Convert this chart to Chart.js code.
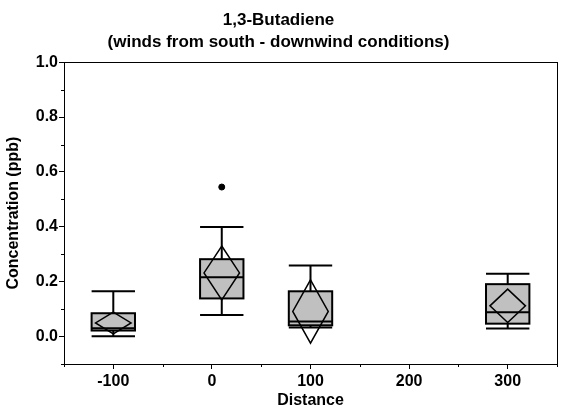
<!DOCTYPE html>
<html><head><meta charset="utf-8">
<script src="https://cdn.jsdelivr.net/npm/chart.js@4"></script>
<style>html,body{margin:0;padding:0;background:#fff}#wrap{width:567px;height:414px}</style>
</head><body><div id="wrap"><canvas id="c" width="567" height="414"></canvas></div>
<script>
// ---- data ----
const distances   = [-100, 10, 100, 300];
const whiskerLow  = [0.001, 0.079, 0.033, 0.029];
const q1          = [0.022, 0.139, 0.041, 0.047];
const medians     = [0.030, 0.216, 0.055, 0.089];
const q3          = [0.085, 0.282, 0.165, 0.191];
const whiskerHigh = [0.165, 0.399, 0.259, 0.229];
const meanCILow   = [0.010, 0.134, -0.024, 0.051];
const meanCIHigh  = [0.089, 0.330, 0.207, 0.173];
const outlierX    = [10];
const outlierY    = [0.545];
const xTicks      = [-100, 0, 100, 200, 300];
const xMinorTicks = [-150, -50, 50, 150, 250, 350];
const yTicks      = [0, 0.2, 0.4, 0.6, 0.8, 1.0];
const yMinorTicks = [-0.1, 0.1, 0.3, 0.5, 0.7, 0.9];

// ---- styles ----
const BOX_HALF = 22;      // half box width in x-units
const DIAMOND_HALF = 18;  // half diamond width in x-units
const FONT = 'Liberation Sans, Arial, sans-serif';

const boxPlugin = {
  id: 'boxes',
  beforeDatasetsDraw(chart) {
    const ctx = chart.ctx, xs = chart.scales.x, ys = chart.scales.y;
    ctx.save();
    ctx.strokeStyle = '#000';
    for (let i = 0; i < distances.length; i++) {
      const cx = xs.getPixelForValue(distances[i]);
      const l = xs.getPixelForValue(distances[i] - BOX_HALF);
      const r = xs.getPixelForValue(distances[i] + BOX_HALF);
      const yq1 = ys.getPixelForValue(q1[i]), yq3 = ys.getPixelForValue(q3[i]);
      const ylo = ys.getPixelForValue(whiskerLow[i]), yhi = ys.getPixelForValue(whiskerHigh[i]);
      const ymed = ys.getPixelForValue(medians[i]);
      ctx.lineWidth = 2;
      // whiskers
      ctx.beginPath();
      ctx.moveTo(cx, yq3); ctx.lineTo(cx, yhi);
      ctx.moveTo(cx, yq1); ctx.lineTo(cx, ylo);
      ctx.moveTo(l, yhi); ctx.lineTo(r, yhi);
      ctx.moveTo(l, ylo); ctx.lineTo(r, ylo);
      ctx.stroke();
      // box
      ctx.fillStyle = '#c0c0c0';
      ctx.fillRect(l, yq3, r - l, yq1 - yq3);
      ctx.strokeRect(l, yq3, r - l, yq1 - yq3);
      // median
      ctx.beginPath();
      ctx.moveTo(l, ymed); ctx.lineTo(r, ymed);
      ctx.stroke();
      // mean diamond
      const dl = xs.getPixelForValue(distances[i] - DIAMOND_HALF);
      const dr = xs.getPixelForValue(distances[i] + DIAMOND_HALF);
      const dt = ys.getPixelForValue(meanCIHigh[i]);
      const db = ys.getPixelForValue(meanCILow[i]);
      const dm = (dt + db) / 2;
      ctx.lineWidth = 1.5;
      ctx.beginPath();
      ctx.moveTo(cx, dt); ctx.lineTo(dr, dm); ctx.lineTo(cx, db); ctx.lineTo(dl, dm); ctx.closePath();
      ctx.stroke();
    }
    ctx.restore();
  },
  afterDraw(chart) {
    const ctx = chart.ctx, a = chart.chartArea, xs = chart.scales.x, ys = chart.scales.y;
    ctx.save();
    ctx.strokeStyle = '#000';
    ctx.lineWidth = 1;
    ctx.strokeRect(Math.round(a.left) + 0.5, Math.round(a.top) + 0.5, Math.round(a.right - a.left), Math.round(a.bottom - a.top));
    ctx.beginPath();
    xMinorTicks.forEach(v => {
      const x = Math.round(xs.getPixelForValue(v)) + 0.5;
      ctx.moveTo(x, a.bottom); ctx.lineTo(x, a.bottom + 3);
    });
    yMinorTicks.forEach(v => {
      const y = Math.round(ys.getPixelForValue(v)) + 0.5;
      ctx.moveTo(a.left, y); ctx.lineTo(a.left - 3, y);
    });
    ctx.stroke();
    ctx.restore();
  }
};

new Chart(document.getElementById('c'), {
  type: 'scatter',
  data: {
    datasets: [{
      data: outlierX.map((x, i) => ({x, y: outlierY[i]})),
      backgroundColor: '#000', borderColor: '#000', pointRadius: 3, pointHoverRadius: 3
    }]
  },
  options: {
    responsive: false,
    animation: false,
    devicePixelRatio: 1,
    layout: {padding: {left: 0, right: 10, top: 0, bottom: 0}},
    plugins: {
      legend: {display: false},
      tooltip: {enabled: false},
      title: {
        display: true,
        text: ['1,3-Butadiene', '(winds from south - downwind conditions)'],
        color: '#000',
        font: {family: FONT, size: 17, weight: 'bold', lineHeight: 1.3},
        padding: {top: 9, bottom: 9}
      }
    },
    scales: {
      x: {
        type: 'linear', min: -150, max: 350,
        afterBuildTicks: s => { s.ticks = xTicks.map(v => ({value: v})); },
        afterFit: s => { s.height = 50; },
        ticks: {color: '#000', font: {family: FONT, size: 16, weight: 'bold'}, padding: 3, maxRotation: 0, autoSkip: false, callback: v => String(v)},
        grid: {drawOnChartArea: false, drawTicks: true, tickLength: 5, color: '#000'},
        border: {color: '#000', width: 1},
        title: {display: true, text: 'Distance', color: '#000', font: {family: FONT, size: 16, weight: 'bold'}, padding: {top: 0, bottom: 4}}
      },
      y: {
        type: 'linear', min: -0.1, max: 1.0,
        afterBuildTicks: s => { s.ticks = yTicks.map(v => ({value: v})); },
        afterFit: s => { s.width = 64; },
        ticks: {color: '#000', font: {family: FONT, size: 16, weight: 'bold'}, padding: 1, callback: v => Number(v).toFixed(1)},
        grid: {drawOnChartArea: false, drawTicks: true, tickLength: 5, color: '#000'},
        border: {color: '#000', width: 1},
        title: {display: true, text: 'Concentration (ppb)', color: '#000', font: {family: FONT, size: 16, weight: 'bold'}, padding: {top: 4, bottom: 0}}
      }
    }
  },
  plugins: [boxPlugin]
});
</script>
</body></html>
